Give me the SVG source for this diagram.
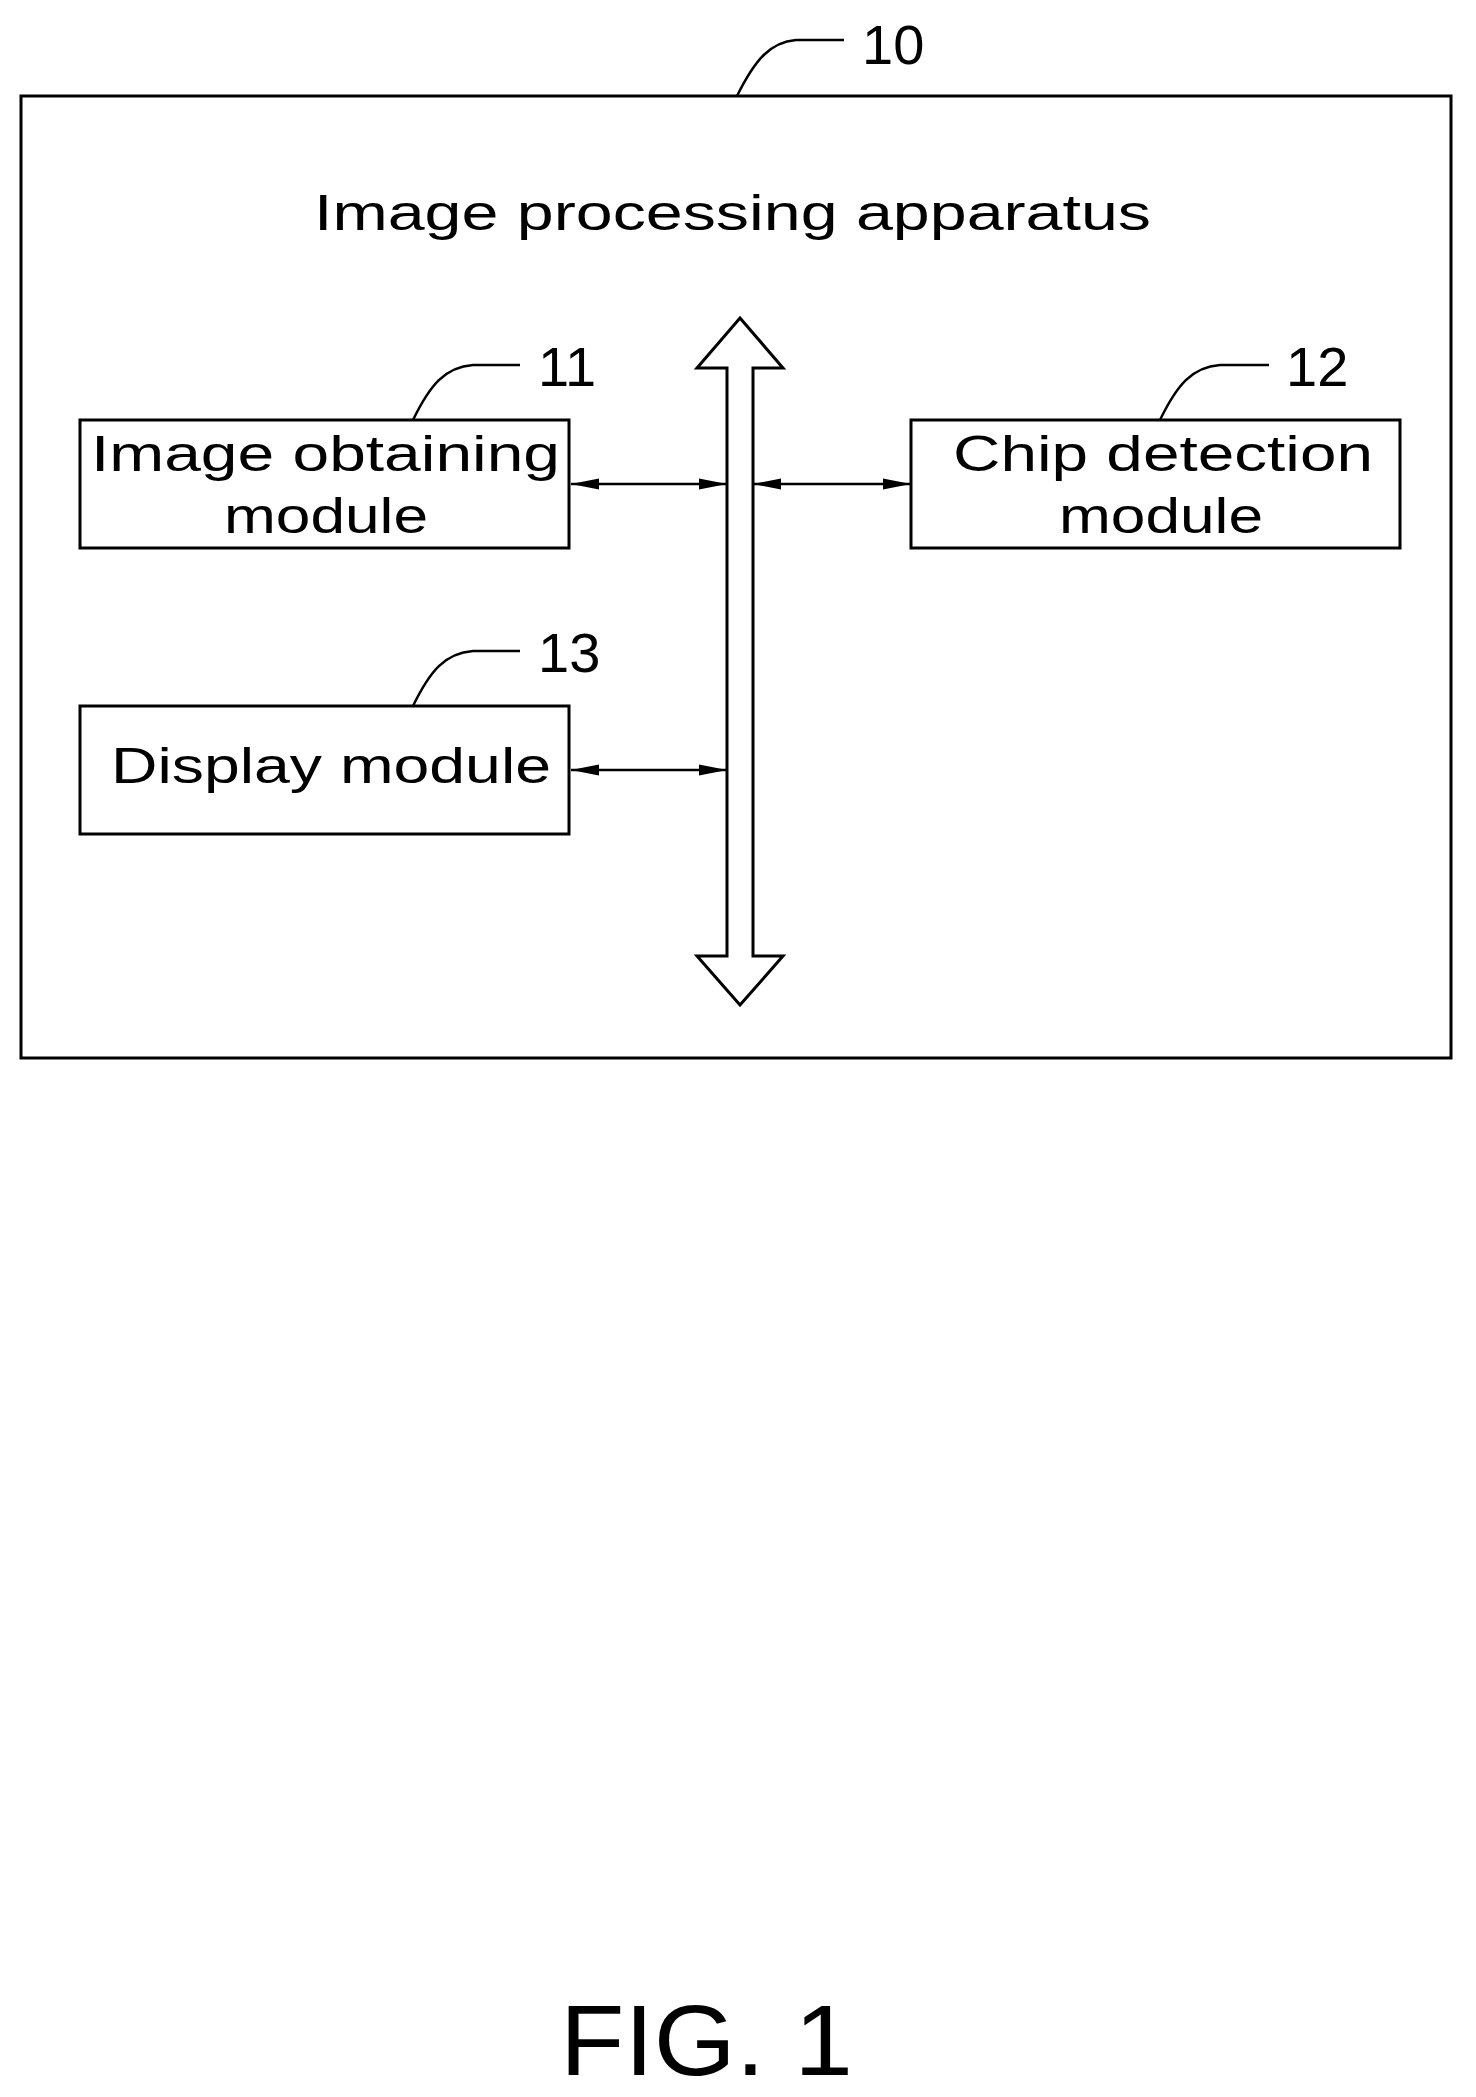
<svg xmlns="http://www.w3.org/2000/svg" width="1476" height="2097" viewBox="0 0 1476 2097">
<style>
.b{fill:none;stroke:#000;stroke-width:3}
.l{fill:none;stroke:#000;stroke-width:2.5}
.t{font-family:"Liberation Sans",Arial,sans-serif;font-size:50px;fill:#000}
.n{font-family:"Liberation Sans",Arial,sans-serif;font-size:56px;fill:#000}
</style>
<defs>
<marker id="a" viewBox="0 0 10 10" refX="10" refY="5" markerWidth="28" markerHeight="14" preserveAspectRatio="none" markerUnits="userSpaceOnUse" orient="auto-start-reverse"><path d="M0,1 L10,5 L0,9 Z" fill="#000"/></marker>
</defs>
<rect width="1476" height="2097" fill="#fff"/>
<g id="apparatus">
<rect class="b" x="21" y="96" width="1430" height="962"/>
<text class="t" x="314" y="230" textLength="837" lengthAdjust="spacingAndGlyphs">Image  processing  apparatus</text>
<path class="l" d="M737,96 C755,60 770,42 796,40 L844,40"/>
<text class="n" x="862" y="64">10</text>
</g>
<g id="m11">
<rect class="b" x="80" y="420" width="489" height="128"/>
<text class="t" x="91" y="471" textLength="469" lengthAdjust="spacingAndGlyphs">Image  obtaining</text>
<text class="t" x="224" y="533" textLength="204" lengthAdjust="spacingAndGlyphs">module</text>
<path class="l" d="M413,420 C430,385 445,367 473,365 L520,365"/>
<text class="n" x="538" y="386">11</text>
</g>
<g id="m12">
<rect class="b" x="911" y="420" width="489" height="128"/>
<text class="t" x="953" y="471" textLength="420" lengthAdjust="spacingAndGlyphs">Chip  detection</text>
<text class="t" x="1059" y="533" textLength="204" lengthAdjust="spacingAndGlyphs">module</text>
<path class="l" d="M1160,420 C1177,385 1192,367 1220,365 L1269,365"/>
<text class="n" x="1286" y="386">12</text>
</g>
<g id="m13">
<rect class="b" x="80" y="706" width="489" height="128"/>
<text class="t" x="111" y="783" textLength="440" lengthAdjust="spacingAndGlyphs">Display  module</text>
<path class="l" d="M413,706 C430,671 445,653 473,651 L520,651"/>
<text class="n" x="538" y="672">13</text>
</g>
<g id="bus">
<path class="b" fill="#fff" d="M740,318 L783,368 L753,368 L753,956 L783,956 L740,1005 L697,956 L727,956 L727,368 L697,368 Z"/>
</g>
<g id="connectors">
<line class="l" x1="571" y1="484" x2="727" y2="484" marker-start="url(#a)" marker-end="url(#a)"/>
<line class="l" x1="753" y1="484" x2="911" y2="484" marker-start="url(#a)" marker-end="url(#a)"/>
<line class="l" x1="571" y1="770" x2="727" y2="770" marker-start="url(#a)" marker-end="url(#a)"/>
</g>
<text x="560" y="2075" font-family="Liberation Sans,Arial,sans-serif" font-size="100" textLength="293" lengthAdjust="spacingAndGlyphs">FIG. 1</text>
</svg>
